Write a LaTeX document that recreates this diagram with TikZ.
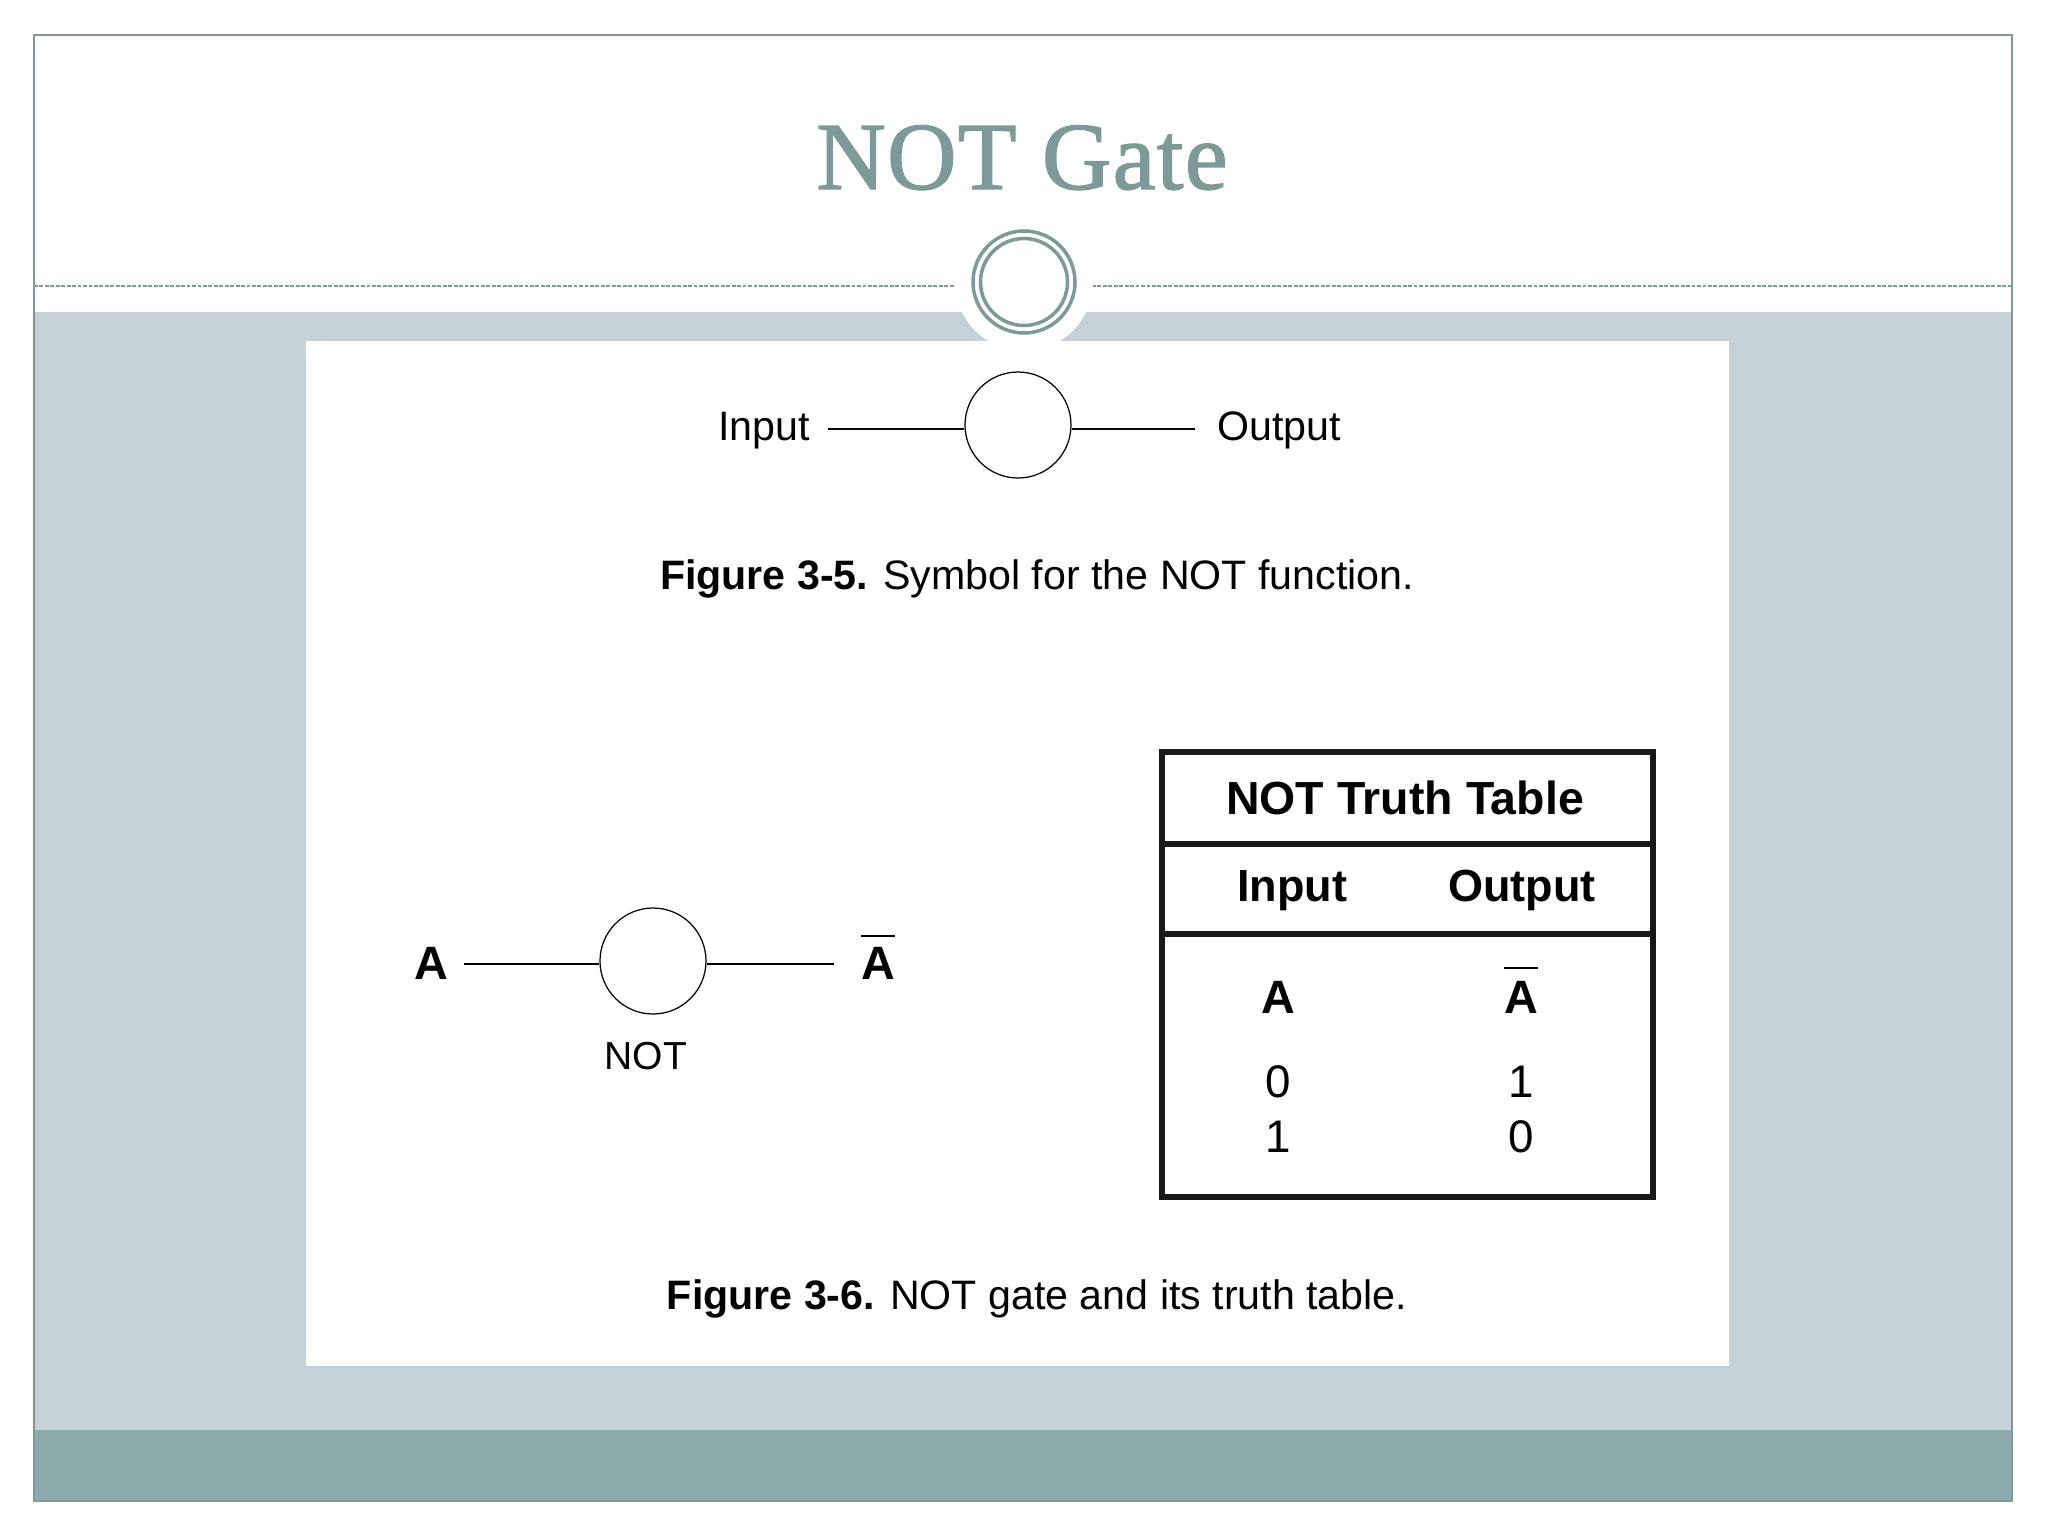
\documentclass[tikz,border=0pt]{standalone}
\usepackage{amsmath}
\usepackage{fontspec}
\setmainfont{Liberation Sans}
\newfontfamily\titlefont[FakeBold=1.5,LetterSpace=1.5]{Liberation Serif}
\usepackage{tikz}
\definecolor{bandgrey}{HTML}{C5D1D6}
\definecolor{bargreen}{HTML}{8DABAB}
\definecolor{titlegreen}{HTML}{7D9A99}
\newcommand{\sz}[1]{\fontsize{#1}{#1}\selectfont}
\newcommand{\barA}[1]{$\overline{\raisebox{0pt}[#1]{\textbf{A}}}$}

\begin{document}
\begin{tikzpicture}[x=0.01cm,y=-0.01cm]
\tikzstyle{every node}+=[inner sep=0pt,anchor=base]
\tikzstyle{gate}=[draw,circle,anchor=center,minimum size=106*0.01cm,line width=0.35pt]
\tikzstyle{wire}=[line width=0.45pt]
\tikzstyle{label}=[font=\sz{11.7}]
\tikzstyle{caption}=[font=\sz{11.7}]
\tikzstyle{head}=[font=\bfseries\sz{12.8}]
\tikzstyle{cell}=[font=\sz{13}]
\tikzstyle{sym}=[font=\bfseries\sz{13.3}]
\useasboundingbox (0,0) rectangle (2048,1536);
% slide
\fill [bandgrey] (34,312) rectangle (2012,1430);
\fill [bargreen] (34,1430) rectangle (2012,1501);
\draw [titlegreen,line width=0.4pt] (34,35) rectangle (2012,1501);
\draw [titlegreen,line width=0.35pt,dash pattern=on 1.1pt off 0.45pt] (34,286) -- (954,286);
\draw [titlegreen,line width=0.35pt,dash pattern=on 1.1pt off 0.45pt] (1092,286) -- (2012,286);
\fill [white] (1024,282) circle (69);
\fill [white] (306,341) rectangle (1729,1366);
\draw [titlegreen,line width=1pt] (1024,282) circle (51);
\draw [titlegreen,line width=1pt] (1024,282) circle (43.5);
\node [text=titlegreen,font=\titlefont\sz{27.3}] (title) at (1022,189) {NOT Gate};
% figure 3-5
\node [gate] (gate1) at (1018,425) {};
\node [label] (input1) at (764,440) {Input};
\node [label] (output1) at (1279,440) {Output};
\coordinate (in1) at (828,429);
\coordinate (out1) at (1195,429);
\draw [wire] (in1) -- (gate1.west |- in1);
\draw [wire] (gate1.east |- out1) -- (out1);
\node [caption] (caption1) at (1037,589) {\textbf{Figure 3-5.} Symbol for the NOT function.};
% figure 3-6
\node [gate] (gate2) at (653,961) {};
\node [sym] (a) at (431,979) {A};
\node [sym] (nota) at (878,979) {\barA{10.2pt}};
\node [font=\sz{11.1}] (notlabel) at (646,1069) {NOT};
\coordinate (in2) at (464,964);
\coordinate (out2) at (834,964);
\draw [wire] (in2) -- (gate2.west |- in2);
\draw [wire] (gate2.east |- out2) -- (out2);
\node [caption] (caption2) at (1037,1309) {\textbf{Figure 3-6.} NOT gate and its truth table.};
% truth table
\draw [line width=1.7pt,black!90] (1162,752) rectangle (1653,1197);
\draw [line width=1.7pt,black!90] (1162,844) -- (1653,844);
\draw [line width=1.7pt,black!90] (1162,934) -- (1653,934);
\node [head,font=\bfseries\sz{13.2}] (tabletitle) at (1405,814) {NOT Truth Table};
\node [head] (tablein) at (1292,901) {Input};
\node [head] (tableout) at (1522,901) {Output};
\node [sym] (cola) at (1278,1013) {A};
\node [sym] (colnota) at (1521,1013) {\barA{10.9pt}};
\node [cell] (a0) at (1278,1097) {0};
\node [cell] (n0) at (1521,1097) {1};
\node [cell] (a1) at (1278,1152) {1};
\node [cell] (n1) at (1521,1152) {0};
\end{tikzpicture}
\end{document}
